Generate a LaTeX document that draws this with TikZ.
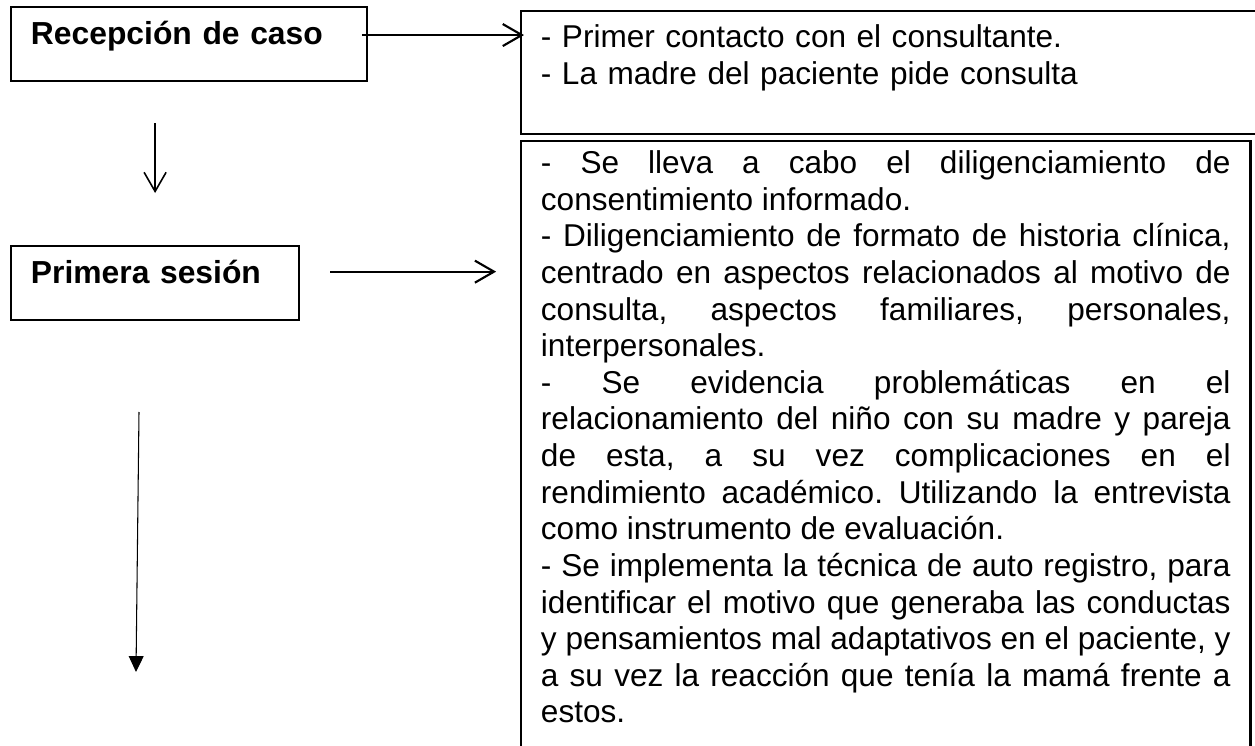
\documentclass[tikz,border=0pt]{standalone}
\usepackage{fontspec}
\setmainfont{Liberation Sans}
\usetikzlibrary{arrows.meta, positioning, calc}
\frenchspacing

\begin{document}
\begin{tikzpicture}[
    x=0.377pt, y=-0.377pt,
    stepbox/.style={rectangle, draw, line width=0.8pt, anchor=north west, inner xsep=7.5pt, inner ysep=5pt, text height=8.95pt, text depth=8.95pt, text width=#1, align=left, font=\bfseries\fontsize{12}{13.8}\selectfont},
    notebox/.style={rectangle, draw, line width=0.8pt, anchor=north west, inner xsep=7.5pt, text width=260pt, align=justify, font=\fontsize{11.9}{13.8}\selectfont\frenchspacing},
    openarrow/.style={-{Straight Barb[length=7.2pt, width=8.3pt]}, line width=0.8pt},
    fillarrow/.style={-{Triangle[length=6pt, width=5.6pt]}, line width=0.4pt}
]
    \useasboundingbox (0,0) rectangle (1255,746);

    % Left column: steps
    \node[stepbox=119.2pt] (recepcion) at (10,6) {Recepción de caso};
    \node[stepbox=93.6pt] (primera) at (10,245) {Primera sesión};

    % Right column: notes
    \node[notebox, inner ysep=5.25pt, text width=270pt, align=left, text depth=27.2pt] (contacto) at (520,10) {
        - Primer contacto con el consultante.\\
        - La madre del paciente pide consulta
    };
    \node[notebox, inner ysep=3.7pt, text depth=230pt] (sesion) at (520,140) {
        - Se lleva a cabo el diligenciamiento de\linebreak
        consentimiento informado.\par
        - Diligenciamiento de formato de historia clínica,\linebreak
        centrado en aspectos relacionados al motivo de\linebreak
        consulta, aspectos familiares, personales,\linebreak
        interpersonales.\par
        - Se evidencia problemáticas en el\linebreak
        relacionamiento del niño con su madre y pareja\linebreak
        de esta, a su vez complicaciones en el\linebreak
        rendimiento académico. Utilizando la entrevista\linebreak
        como instrumento de evaluación.\par
        - Se implementa la técnica de auto registro, para\linebreak
        identificar el motivo que generaba las conductas\linebreak
        y pensamientos mal adaptativos en el paciente, y\linebreak
        a su vez la reacción que tenía la mamá frente a\linebreak
        estos.
    };

    % Arrows
    \coordinate (nextstart) at (139,412);
    \coordinate (nextend) at (136,672);
    \draw[openarrow, shorten <=-2.3pt, shorten >=-1.5pt] ([yshift=3.4pt]recepcion.east) -- ([yshift=3.4pt]recepcion.east -| contacto.west);
    \draw[openarrow, line width=0.6pt, shorten <=15.5pt, shorten >=19.6pt] (recepcion.south -| primera.north) -- (primera.north);
    \draw[openarrow, shorten <=11.3pt, shorten >=9pt] ([yshift=4.3pt]primera.east) -- ([yshift=4.3pt]primera.east -| sesion.west);
    \draw[fillarrow] (nextstart) -- (nextend);

\end{tikzpicture}
\end{document}
